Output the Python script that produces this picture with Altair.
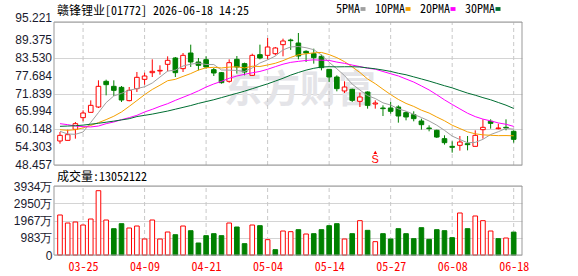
import json
import altair as alt
import pandas as pd

# ---------------- data ----------------
dates = ["03-20", "03-23", "03-24", "03-25", "03-26", "03-27", "03-30", "03-31", "04-01", "04-02",
         "04-08", "04-09", "04-10", "04-13", "04-14", "04-15", "04-16", "04-17", "04-20", "04-21",
         "04-22", "04-23", "04-24", "04-27", "04-28", "04-29", "04-30", "05-04", "05-05", "05-06",
         "05-07", "05-08", "05-11", "05-12", "05-13", "05-14", "05-15", "05-18", "05-19", "05-20",
         "05-21", "05-22", "05-26", "05-27", "05-28", "05-29", "06-01", "06-02", "06-03", "06-04",
         "06-05", "06-08", "06-09", "06-10", "06-11", "06-12", "06-15", "06-16", "06-17", "06-18"]

opens = [56.31, 56.52, 60.12, 63.93, 65.68, 67.42, 75.82, 74.18, 73.85, 69.50,
         73.42, 76.47, 78.65, 79.20, 81.38, 83.45, 79.96, 85.08, 82.14, 82.90,
         79.63, 78.65, 75.82, 83.01, 81.60, 77.78, 84.54, 84.32, 84.86, 87.81,
         89.33, 88.35, 85.63, 84.86, 83.99, 79.74, 77.23, 72.66, 73.20, 69.28,
         72.33, 68.41, 67.10, 67.10, 67.42, 65.57, 64.92, 62.85, 60.56, 59.80,
         57.07, 54.56, 54.89, 55.43, 54.56, 60.01, 62.74, 60.34, 60.78, 59.47]
highs = [59.25, 60.01, 62.52, 66.33, 69.60, 76.15, 76.36, 76.15, 74.29, 73.96,
         78.87, 78.65, 83.01, 81.05, 83.99, 83.78, 85.08, 87.81, 83.45, 83.99,
         80.18, 78.87, 83.01, 84.10, 81.92, 84.86, 87.81, 89.99, 87.05, 89.77,
         89.77, 91.62, 85.96, 86.50, 84.54, 79.74, 77.78, 75.82, 73.42, 72.11,
         72.55, 69.60, 67.97, 69.06, 67.97, 66.01, 66.01, 63.61, 61.43, 60.01,
         58.16, 56.20, 57.94, 57.94, 59.80, 63.39, 63.39, 61.97, 63.39, 59.80]
lows = [55.43, 56.52, 57.07, 62.74, 65.68, 67.10, 71.24, 71.02, 69.06, 69.28,
        72.33, 74.73, 77.23, 78.00, 79.09, 77.23, 78.87, 80.51, 79.41, 79.96,
        77.56, 75.06, 75.38, 78.33, 77.78, 77.56, 83.01, 83.01, 84.32, 84.00,
        86.10, 83.01, 82.14, 81.60, 79.41, 75.60, 72.55, 72.00, 69.06, 67.42,
        66.88, 66.88, 64.48, 65.25, 62.30, 63.06, 62.74, 60.01, 59.47, 57.29,
        55.11, 52.49, 53.14, 53.25, 54.56, 57.07, 60.34, 60.12, 59.80, 55.76]
closes = [58.16, 58.38, 61.97, 65.46, 67.97, 74.18, 74.73, 72.87, 69.71, 72.87,
          77.13, 77.56, 79.09, 79.41, 82.69, 78.65, 84.32, 82.14, 81.05, 80.51,
          78.54, 75.38, 81.92, 80.51, 78.87, 84.32, 83.45, 87.05, 86.72, 89.01,
          89.12, 84.10, 85.08, 83.56, 80.29, 77.23, 73.42, 73.96, 69.60, 70.70,
          67.97, 68.73, 66.88, 66.01, 64.48, 64.16, 63.61, 61.65, 60.34, 57.60,
          55.76, 54.24, 55.98, 55.11, 58.16, 60.78, 62.08, 60.56, 60.56, 56.85]
# volume in 万 shares
volumes = [2281, 1824, 1881, 1710, 2052, 3666, 1995, 1500, 1785, 1539,
           1653, 912, 1995, 912, 1311, 1157, 1653, 1385, 684, 1102,
           1216, 1102, 1824, 1596, 646, 1710, 1672, 874, 304, 1368,
           1330, 1444, 1197, 1216, 1444, 1672, 1786, 912, 1216, 1957,
           1406, 760, 1216, 912, 1501, 1216, 931, 1558, 893, 1444,
           1387, 988, 2395, 1501, 2224, 1957, 1368, 931, 969, 1305]
# 1 = red (up) volume bar, 0 = green
vol_up = [1, 1, 1, 1, 1, 1, 1, 0, 0, 1,
          1, 1, 1, 1, 1, 0, 1, 0, 0, 0,
          0, 0, 1, 0, 0, 1, 0, 1, 0, 1,
          1, 0, 1, 0, 0, 0, 0, 1, 0, 1,
          0, 1, 0, 0, 0, 0, 0, 0, 0, 0,
          0, 0, 1, 0, 1, 1, 1, 0, 1, 0]

ma5 = [59.47, 58.60, 58.49, 59.25, 62.39, 65.59, 68.86, 71.04, 71.89, 72.87,
       73.46, 74.03, 75.27, 77.21, 79.18, 79.48, 80.83, 81.44, 81.77, 81.33,
       81.31, 79.52, 79.48, 79.37, 79.04, 80.20, 81.81, 82.84, 84.08, 86.11,
       87.07, 87.20, 86.81, 86.17, 84.43, 82.05, 79.92, 77.69, 74.90, 72.98,
       71.13, 70.19, 68.78, 68.06, 66.81, 66.05, 65.03, 63.98, 62.85, 61.47,
       59.79, 57.92, 56.78, 55.74, 55.85, 56.85, 58.42, 59.34, 60.43, 60.17]
ma10 = [60.00, 59.80, 60.00, 60.60, 61.40, 62.30, 63.30, 64.40, 65.80, 67.63,
        69.53, 71.45, 73.16, 74.55, 76.02, 76.47, 77.43, 78.36, 79.49, 80.26,
        80.40, 80.18, 80.46, 80.57, 80.19, 80.76, 80.67, 81.16, 81.73, 82.58,
        83.64, 84.51, 84.82, 85.13, 85.27, 84.56, 83.56, 82.25, 80.54, 78.71,
        76.59, 75.05, 73.23, 71.48, 69.90, 68.59, 67.61, 66.38, 65.45, 64.14,
        62.92, 61.47, 60.38, 59.29, 58.66, 58.32, 58.17, 58.06, 58.08, 58.01]
ma20 = [61.97, 61.65, 61.21, 61.00, 60.90, 61.20, 61.97, 62.52, 63.28, 63.94,
        64.70, 65.79, 66.66, 67.64, 68.51, 69.60, 70.60, 71.60, 72.70, 73.94,
        74.96, 75.81, 76.81, 77.56, 78.11, 78.61, 79.05, 79.76, 80.61, 81.42,
        82.02, 82.34, 82.64, 82.85, 82.73, 82.66, 82.11, 81.70, 81.13, 80.64,
        80.11, 79.78, 79.03, 78.30, 77.58, 76.58, 75.58, 74.31, 73.00, 71.42,
        69.76, 68.26, 66.81, 65.39, 64.28, 63.46, 62.89, 62.22, 61.77, 61.08]
ma30 = [61.10, 61.20, 61.30, 61.50, 61.80, 62.10, 62.45, 62.80, 63.20, 63.60,
        64.30, 64.70, 65.10, 65.60, 66.10, 66.70, 67.30, 67.90, 68.60, 69.20,
        69.80, 70.50, 71.20, 71.90, 72.60, 73.40, 74.20, 75.00, 75.90, 76.82,
        77.85, 78.71, 79.48, 80.08, 80.49, 80.60, 80.55, 80.59, 80.59, 80.51,
        80.21, 79.91, 79.51, 79.06, 78.45, 77.97, 77.28, 76.60, 75.91, 75.14,
        74.38, 73.68, 72.81, 71.97, 71.28, 70.49, 69.78, 68.90, 68.02, 66.95]

ma_names = ["5PMA", "10PMA", "20PMA", "30PMA"]
ma_colors = ["#a0a0a0", "#f5a000", "#ff00ff", "#006e32"]

price_ticks = [95.221, 89.375, 83.530, 77.684, 71.839, 65.994, 60.148, 54.303, 48.457]
price_tick_labels = ["95.221", "89.375", "83.530", "77.684", "71.839", "65.994", "60.148",
                     "54.303", "48.457"]
vol_ticks = [0, 983.5, 1967, 2950.5, 3934]
x_label_idx = [3, 11, 19, 27, 35, 43, 51, 59]

signal_idx = [41]
signal_text = ["S"]
signal_price = [50.0]
signal_arrow_price = [52.6]

title_text = "赣锋锂业[01772] 2026-06-18 14:25"
vol_title = "成交量:13052122"
watermark = "东方财富"

# ---------------- tables ----------------
idx = list(range(len(dates)))
df = pd.DataFrame({
    "i": idx, "date": dates, "open": opens, "high": highs, "low": lows,
    "close": closes, "vol": volumes, "vup": vol_up,
})
df["x0"] = df["i"] - 0.3
df["x1"] = df["i"] + 0.3
df["dir"] = ["up" if c >= o else "down" for o, c in zip(opens, closes)]
df["vdir"] = ["up" if u else "down" for u in vol_up]

ma_rows = []
for name, series in zip(ma_names, [ma5, ma10, ma20, ma30]):
    for k, v in enumerate(series):
        ma_rows.append({"i": k, "value": v, "ma": name})
ma_df = pd.DataFrame(ma_rows)

sig_df = pd.DataFrame({"i": signal_idx, "t": signal_text, "p": signal_price,
                       "pa": signal_arrow_price})
grid_df = pd.DataFrame({"i": x_label_idx})
plab_df = pd.DataFrame({"v": price_ticks, "t": price_tick_labels})

MONO = "'Noto Sans Mono CJK SC', 'Noto Sans CJK SC', 'DejaVu Sans Mono', monospace"
SANS = "'Liberation Sans', Arial, sans-serif"
RED = "#ff0000"
GREEN = "#008000"
FRAME = "#999999"
GRIDC = "#d4d4d4"
DASHC = "#c8c8c8"
LABC = "#1a1a2e"

# plot geometry: price panel 143 px, gap 21 px, volume panel 69 px
W, H = 468, 233
P_RANGE = [143, 0]
V_RANGE = [233, 164]
xdom = [-0.78, 60.08]
pdom = [48.457, 95.221]
vdom = [0, 3934]

xscale = alt.Scale(domain=xdom, nice=False, zero=False)
pscale = alt.Scale(domain=pdom, nice=False, zero=False, range=P_RANGE)
vscale = alt.Scale(domain=vdom, nice=False, zero=False, range=V_RANGE)
label_expr = json.dumps(dates) + "[datum.value]"

x_axis = alt.Axis(values=x_label_idx, labelExpr=label_expr, ticks=False, domain=False,
                  title=None, grid=False, labelColor=RED, labelFont=MONO, labelFontSize=12,
                  labelPadding=6, labelFlush=False, labelOverlap=False)

y_axis_price = alt.Axis(values=price_ticks, ticks=False, domain=False, title=None,
                        orient="left", grid=True, gridColor=GRIDC, labels=False)
y_axis_vol = alt.Axis(values=vol_ticks, ticks=False, domain=False, title=None, orient="left",
                      grid=True, gridColor=GRIDC, labelFont=SANS, labelFontSize=12,
                      labelColor=LABC, labelPadding=2, labelOverlap=False,
                      labelExpr="datum.value == 0 ? '0' : floor(datum.value) + '万'")

dir_stroke = alt.Scale(domain=["up", "down"], range=[RED, GREEN])
dir_fill = alt.Scale(domain=["up", "down"], range=["#ffffff", GREEN])

base = alt.Chart(df)

# ---------------- price panel ----------------
wm = alt.Chart(pd.DataFrame({"t": [watermark]})).mark_text(
    fontSize=38, fontWeight="bold", color="#e4e4e8",
    font="'Noto Sans CJK SC', sans-serif", align="center", baseline="middle"
).encode(x=alt.value(246), y=alt.value(69), text="t:N")

p_grid = alt.Chart(grid_df).mark_rule(strokeDash=[4, 3], color=DASHC, strokeWidth=1).encode(
    x=alt.X("i:Q", scale=xscale, axis=x_axis),
    y=alt.Y(datum=pdom[0], type="quantitative", scale=pscale, axis=y_axis_price),
    y2=alt.Y2(datum=pdom[1]),
)

# price axis labels (all nine shown)
plab_mid = alt.Chart(plab_df).transform_filter("datum.v < 95").mark_text(
    font=SANS, fontSize=12, color=LABC, align="right", baseline="middle", dx=-2
).encode(
    x=alt.X(datum=xdom[0], type="quantitative", scale=xscale),
    y=alt.Y("v:Q", scale=pscale),
    text="t:N",
)
plab_top = alt.Chart(plab_df).transform_filter("datum.v > 95").mark_text(
    font=SANS, fontSize=12, color=LABC, align="right", baseline="alphabetic", dx=-2
).encode(
    x=alt.X(datum=xdom[0], type="quantitative", scale=xscale),
    y=alt.Y("v:Q", scale=pscale),
    text="t:N",
)

wick = base.mark_rule(strokeWidth=1).encode(
    x=alt.X("i:Q", scale=xscale),
    y=alt.Y("low:Q", scale=pscale),
    y2="high:Q",
    stroke=alt.Stroke("dir:N", scale=dir_stroke, legend=None),
)

body = base.mark_rect(strokeWidth=1).encode(
    x=alt.X("x0:Q", scale=xscale),
    x2="x1:Q",
    y=alt.Y("open:Q", scale=pscale),
    y2="close:Q",
    stroke=alt.Stroke("dir:N", scale=dir_stroke, legend=None),
    fill=alt.Fill("dir:N", scale=dir_fill, legend=None),
)

lines = alt.Chart(ma_df).mark_line(strokeWidth=1).encode(
    x=alt.X("i:Q", scale=xscale),
    y=alt.Y("value:Q", scale=pscale),
    color=alt.Color("ma:N", scale=alt.Scale(domain=ma_names, range=ma_colors),
                    legend=alt.Legend(
                        title=None, orient="none", direction="horizontal",
                        legendX=303, legendY=-19, padding=0,
                        labelFont=MONO, labelFontSize=12, labelColor="#000",
                        labelAlign="right", labelOffset={"expr": "-9"}, columnPadding=5,
                        symbolType="M-1,-0.6L1,-0.6L1,0.6L-1,0.6Z", symbolSize=9,
                        symbolStrokeWidth=2,
                    )),
    detail="ma:N",
    order="i:Q",
)

sig_arrow = alt.Chart(sig_df).mark_point(shape="triangle-up", filled=True, size=14, color=RED,
                                          opacity=1).encode(
    x=alt.X("i:Q", scale=xscale), y=alt.Y("pa:Q", scale=pscale))
sig_text = alt.Chart(sig_df).mark_text(fontSize=11, color=RED, font=SANS, baseline="middle").encode(
    x=alt.X("i:Q", scale=xscale), y=alt.Y("p:Q", scale=pscale), text="t:N")

p_title = alt.Chart(pd.DataFrame({"t": [title_text]})).mark_text(
    font=MONO, fontSize=12, color="#000", align="left", baseline="alphabetic", dx=3, dy=-7
).encode(
    x=alt.X(datum=xdom[0], type="quantitative", scale=xscale),
    y=alt.Y(datum=pdom[1], type="quantitative", scale=pscale),
    text="t:N",
)

p_frame = alt.Chart(pd.DataFrame({"k": [0]})).mark_rect(
    fill=None, stroke=FRAME, strokeWidth=1
).encode(
    x=alt.X(datum=xdom[0], type="quantitative", scale=xscale),
    x2=alt.X2(datum=xdom[1]),
    y=alt.Y(datum=pdom[0], type="quantitative", scale=pscale),
    y2=alt.Y2(datum=pdom[1]),
)

price = alt.layer(wm, p_grid, plab_mid, plab_top, wick, body, lines, sig_arrow, sig_text,
                  p_title, p_frame)

# ---------------- volume panel ----------------
v_grid = alt.Chart(grid_df).mark_rule(strokeDash=[4, 3], color=DASHC, strokeWidth=1).encode(
    x=alt.X("i:Q", scale=xscale),
    y=alt.Y(datum=vdom[0], type="quantitative", scale=vscale, axis=y_axis_vol),
    y2=alt.Y2(datum=vdom[1]),
)

vol = base.mark_rect(strokeWidth=1).encode(
    x=alt.X("x0:Q", scale=xscale),
    x2="x1:Q",
    y=alt.Y("vol:Q", scale=vscale),
    y2=alt.Y2(datum=0),
    stroke=alt.Stroke("vdir:N", scale=dir_stroke, legend=None),
    fill=alt.Fill("vdir:N", scale=dir_fill, legend=None),
)

v_title = alt.Chart(pd.DataFrame({"t": [vol_title]})).mark_text(
    font=MONO, fontSize=12, color="#000", align="left", baseline="alphabetic", dx=3, dy=-5
).encode(
    x=alt.X(datum=xdom[0], type="quantitative", scale=xscale),
    y=alt.Y(datum=vdom[1], type="quantitative", scale=vscale),
    text="t:N",
)

v_frame = alt.Chart(pd.DataFrame({"k": [0]})).mark_rect(
    fill=None, stroke=FRAME, strokeWidth=1
).encode(
    x=alt.X(datum=xdom[0], type="quantitative", scale=xscale),
    x2=alt.X2(datum=xdom[1]),
    y=alt.Y(datum=vdom[0], type="quantitative", scale=vscale),
    y2=alt.Y2(datum=vdom[1]),
)

volume = alt.layer(v_grid, vol, v_title, v_frame)

chart = alt.layer(price, volume).resolve_scale(y="independent").properties(
    width=W, height=H,
    autosize=alt.AutoSizeParams(type="none"),
    padding={"left": 54, "top": 22, "right": 56, "bottom": 21},
    background="#ffffff",
).configure_view(stroke=None)

chart.save("out.html", embed_options={"renderer": "svg", "actions": False})
